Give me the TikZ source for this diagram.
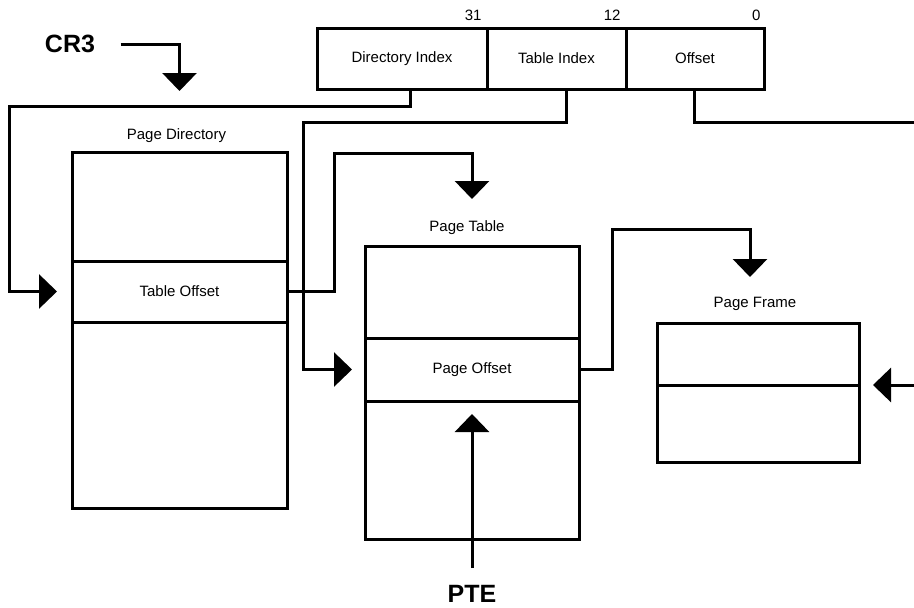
\documentclass[tikz,border=0pt]{standalone}
\usepackage{fontspec}
\setmainfont{Liberation Sans}
\usetikzlibrary{arrows.meta,positioning}
\tikzset{x=1pt,y=-1pt,
    every node/.style={font=\fontsize{15}{18}\selectfont},
    cell/.style={draw,line width=3pt,outer sep=0pt,inner sep=0pt},
    regname/.style={font=\bfseries\fontsize{25}{30}\selectfont},
    link/.style={line width=3pt,-{Triangle[width=34pt,length=18pt]}},
    wire/.style={line width=3pt},
    }
\begin{document}
\begin{tikzpicture}
	\useasboundingbox (0,0) rectangle (914,608);
	% linear address
	\node[cell,anchor=north west,minimum width=170pt,minimum height=61pt] (dirIdx) at (317,28) {Directory Index};
	\node[cell,right=0pt of dirIdx,minimum width=139pt,minimum height=61pt] (tblIdx) {Table Index};
	\node[cell,right=0pt of tblIdx,minimum width=138pt,minimum height=61pt] (offIdx) {Offset};
	\node[anchor=base east] (b31) at ([xshift=-2pt,yshift=8pt]dirIdx.north east) {31};
	\node[anchor=base east] (b12) at ([xshift=-2pt,yshift=8pt]tblIdx.north east) {12};
	\node[anchor=base east] (b0) at ([yshift=8pt]offIdx.north east) {0};
	% page directory
	\node[cell,anchor=north,minimum width=215pt,minimum height=109pt] (pdTop) at (179.5,152) {};
	\node[cell,below=0pt of pdTop,minimum width=215pt,minimum height=61pt] (pdEnt) {Table Offset};
	\node[cell,below=0pt of pdEnt,minimum width=215pt,minimum height=186pt] (pdBot) {};
	\node[anchor=base] (pdName) at ([xshift=-3pt,yshift=13pt]pdTop.north) {Page Directory};
	% page table
	\node[cell,anchor=north,minimum width=214pt,minimum height=92pt] (ptTop) at (472,246) {};
	\node[cell,below=0pt of ptTop,minimum width=214pt,minimum height=63pt] (ptEnt) {Page Offset};
	\node[cell,below=0pt of ptEnt,minimum width=214pt,minimum height=138pt] (ptBot) {};
	\node[anchor=base] (ptName) at ([xshift=-5pt,yshift=15pt]ptTop.north) {Page Table};
	% page frame
	\node[cell,anchor=north,minimum width=202pt,minimum height=62pt] (pfTop) at (758,323) {};
	\node[cell,below=0pt of pfTop,minimum width=202pt,minimum height=77pt] (pfBot) {};
	\node[anchor=base] (pfName) at ([xshift=-3pt,yshift=16pt]pfTop.north) {Page Frame};
	% registers
	\node[regname] (cr3) at (70,44) {CR3};
	\node[regname] (pte) at (472,594) {PTE};
	\coordinate (dirBend) at (9,106);
	\coordinate (tblBend) at (303,122);
	\coordinate (offEnd) at (914,122);
	\coordinate (toBend) at (334,153);
	\coordinate (poBend) at (612,229);
	\coordinate (poTip) at (750,277);
	\coordinate (pfIn) at (914,385);
	\coordinate (pteFoot) at (472,568);
	% connectors
	\draw[link] ([xshift=22pt]cr3.east) -| ([yshift=61pt]pdTop.north);
	\draw[link] ([xshift=8pt]dirIdx.south) |- (dirBend) |- ([xshift=-15pt]pdEnt.west);
	\draw[link] ([xshift=9.5pt]tblIdx.south) |- (tblBend) |- ([xshift=-13pt]ptEnt.west);
	\draw[wire] ([xshift=-1pt]offIdx.south) |- (offEnd);
	\draw[link] (pdEnt.east) -| (toBend) -| ([yshift=47pt]ptTop.north);
	\draw[link] (ptEnt.east) -| (poBend) -| (poTip);
	\draw[link] (pfIn) -- ([xshift=14pt]pfTop.south east);
	\draw[link] (pteFoot) -- ([yshift=-13pt]ptBot.north);
\end{tikzpicture}
\end{document}
